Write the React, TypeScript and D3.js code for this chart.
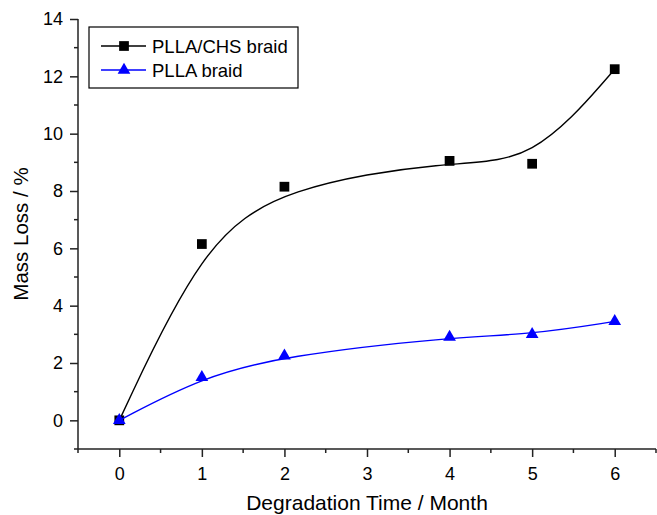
import { useEffect, useRef } from "react";
import * as d3 from "d3";

const months = [0, 1, 2, 4, 5, 6];
const chsBraid = [0, 6.15, 8.15, 9.05, 8.95, 12.25];
const pllaBraid = [0, 1.5, 2.25, 2.9, 3.0, 3.45];
const xTicks = [0, 1, 2, 3, 4, 5, 6];
const yTicks = [0, 2, 4, 6, 8, 10, 12, 14];

const W = 657;
const H = 515;
const FONT = "'Liberation Sans', Arial, sans-serif";

const App = () => {
  const ref = useRef<SVGSVGElement | null>(null);

  useEffect(() => {
    const svg = d3.select(ref.current);
    svg.selectAll("*").remove();

    const x = d3.scaleLinear().domain([-0.5, 6.5]).range([78, 656]);
    const y = d3.scaleLinear().domain([-1, 14]).range([449, 19]);

    // axes (left + bottom only)
    const xAxis = svg.append("g").attr("transform", `translate(0,${y(-1)})`);
    xAxis
      .call(d3.axisBottom(x).tickValues(xTicks).tickSize(8).tickFormat(d3.format("d")))
      .call((g) => g.select(".domain").remove());
    xAxis
      .selectAll("line.minor")
      .data(d3.range(-0.5, 6.51, 1))
      .enter()
      .append("line")
      .attr("x1", (d) => x(d))
      .attr("x2", (d) => x(d))
      .attr("y1", 0)
      .attr("y2", 4);
    xAxis.append("line").attr("x1", x(-0.5)).attr("x2", x(6.5)).attr("y1", 0).attr("y2", 0);

    const yAxis = svg.append("g").attr("transform", `translate(${x(-0.5)},0)`);
    yAxis
      .call(d3.axisLeft(y).tickValues(yTicks).tickSize(8).tickPadding(7))
      .call((g) => g.select(".domain").remove());
    yAxis
      .selectAll("line.minor")
      .data(d3.range(-1, 14, 2))
      .enter()
      .append("line")
      .attr("x1", -4)
      .attr("x2", 0)
      .attr("y1", (d) => y(d))
      .attr("y2", (d) => y(d));
    yAxis.append("line").attr("x1", 0).attr("x2", 0).attr("y1", y(-1)).attr("y2", y(14));

    svg
      .selectAll("g line")
      .attr("stroke", "#222")
      .attr("stroke-width", 1.5);
    svg
      .selectAll(".tick text")
      .attr("font-family", FONT)
      .attr("font-size", 18)
      .attr("fill", "#000");
    xAxis.selectAll(".tick text").attr("dy", 20);

    // titles
    svg
      .append("text")
      .attr("x", (x(-0.5) + x(6.5)) / 2)
      .attr("y", 510)
      .attr("text-anchor", "middle")
      .attr("font-family", FONT)
      .attr("font-size", 21)
      .text("Degradation Time / Month");
    svg
      .append("text")
      .attr("transform", `translate(28,${(y(-1) + y(14)) / 2}) rotate(-90)`)
      .attr("text-anchor", "middle")
      .attr("font-family", FONT)
      .attr("font-size", 20.5)
      .text("Mass Loss / %");

    const series = [
      { name: "PLLA/CHS braid", values: chsBraid, color: "#000000", symbol: d3.symbolSquare, size: 95 },
      { name: "PLLA braid", values: pllaBraid, color: "#0000ff", symbol: d3.symbolTriangle, size: 70 },
    ];

    const line = d3
      .line<[number, number]>()
      .x((d) => x(d[0]))
      .y((d) => y(d[1]))
      .curve(d3.curveBasis);

    series.forEach((s) => {
      const pts = months.map((m, i) => [m, s.values[i]] as [number, number]);
      svg
        .append("path")
        .attr("d", line(pts) as string)
        .attr("fill", "none")
        .attr("stroke", s.color)
        .attr("stroke-width", 1.4);
      svg
        .append("g")
        .selectAll("path")
        .data(pts)
        .enter()
        .append("path")
        .attr("transform", (d) => `translate(${x(d[0])},${y(d[1])})`)
        .attr("d", d3.symbol().type(s.symbol).size(s.size)() as string)
        .attr("fill", s.color);
    });

    // legend
    const legend = svg.append("g");
    legend
      .append("rect")
      .attr("x", 89)
      .attr("y", 27)
      .attr("width", 209)
      .attr("height", 61)
      .attr("fill", "#fff")
      .attr("stroke", "#000")
      .attr("stroke-width", 1.2);
    series.forEach((s, i) => {
      const ly = 46 + i * 24;
      legend
        .append("line")
        .attr("x1", 101)
        .attr("x2", 146)
        .attr("y1", ly)
        .attr("y2", ly)
        .attr("stroke", s.color)
        .attr("stroke-width", 1.4);
      legend
        .append("path")
        .attr("transform", `translate(124,${ly})`)
        .attr("d", d3.symbol().type(s.symbol).size(s.size)() as string)
        .attr("fill", s.color);
      legend
        .append("text")
        .attr("x", 152)
        .attr("y", ly + 7)
        .attr("font-family", FONT)
        .attr("font-size", 18.5)
        .text(s.name);
    });
  }, []);

  return (
    <svg
      ref={ref}
      width={W}
      height={H}
      style={{ position: "absolute", left: 0, top: 0, background: "#fff" }}
    />
  );
};

export default App;
